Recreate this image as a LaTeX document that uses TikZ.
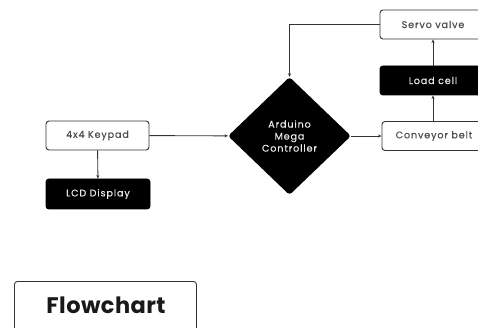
\documentclass[tikz,border=0pt]{standalone}
\usepackage{fontspec}
\setmainfont{Poppins}[LetterSpace=9, FakeBold=0.35]
\newfontfamily\titlefont{Poppins}[BoldFont={* Bold}, LetterSpace=2]
\usetikzlibrary{shapes.geometric,arrows.meta}
\tikzset{
  box/.style={draw=black!80, line width=0.9pt, rounded corners=3pt, minimum height=29pt, inner sep=0pt, font=\fontsize{9.6}{11}\selectfont, text=black!70},
  darkbox/.style={box, fill=black, draw=black, text=white!92!black},
  link/.style={draw=black!80, line width=0.9pt, -{Stealth[length=3.5pt,width=3pt]}},
}
\begin{document}
\begin{tikzpicture}[x=1pt,y=-1pt]
\useasboundingbox (0,0) rectangle (478,328);
\clip (0,0) rectangle (478,328);
\node[box, minimum width=103pt] (key) at (97.5,135.5) {4x4 Keypad};
\node[darkbox, minimum width=104pt, minimum height=30pt] (lcd) at (98,194) {LCD Display};
\node[diamond, fill=black, minimum width=123pt, minimum height=118pt, inner sep=0pt, text=white!92!black, align=center, font=\fontsize{9.6}{12}\selectfont, rounded corners=3pt] (ard) at (289.5,136) {Arduino\\Mega\\Controller};
\node[box, minimum width=104pt] (conv) at (434,136) {Conveyor belt};
\node[darkbox, minimum width=106pt] (load) at (433,80.5) {Load cell};
\node[box, minimum width=106pt] (servo) at (433,24.5) {Servo valve};
\node[draw=black!80, line width=0.9pt, rounded corners=3pt, minimum width=182pt, minimum height=70pt, anchor=north west, inner sep=0pt] (title) at (14,281) {};
\node[font=\titlefont\bfseries\fontsize{22.5}{26}\selectfont, text=black!90] (tt) at (106,305) {Flowchart};
\draw[link] (key) -- (ard);
\draw[link] (key) -- (lcd);
\draw[link] (ard) -- (conv);
\draw[link] (conv.north -| load) -- (load);
\draw[link] (load) -- (servo.south -| load);
\draw[link] (servo.west) -| (ard.north);
\end{tikzpicture}
\end{document}
